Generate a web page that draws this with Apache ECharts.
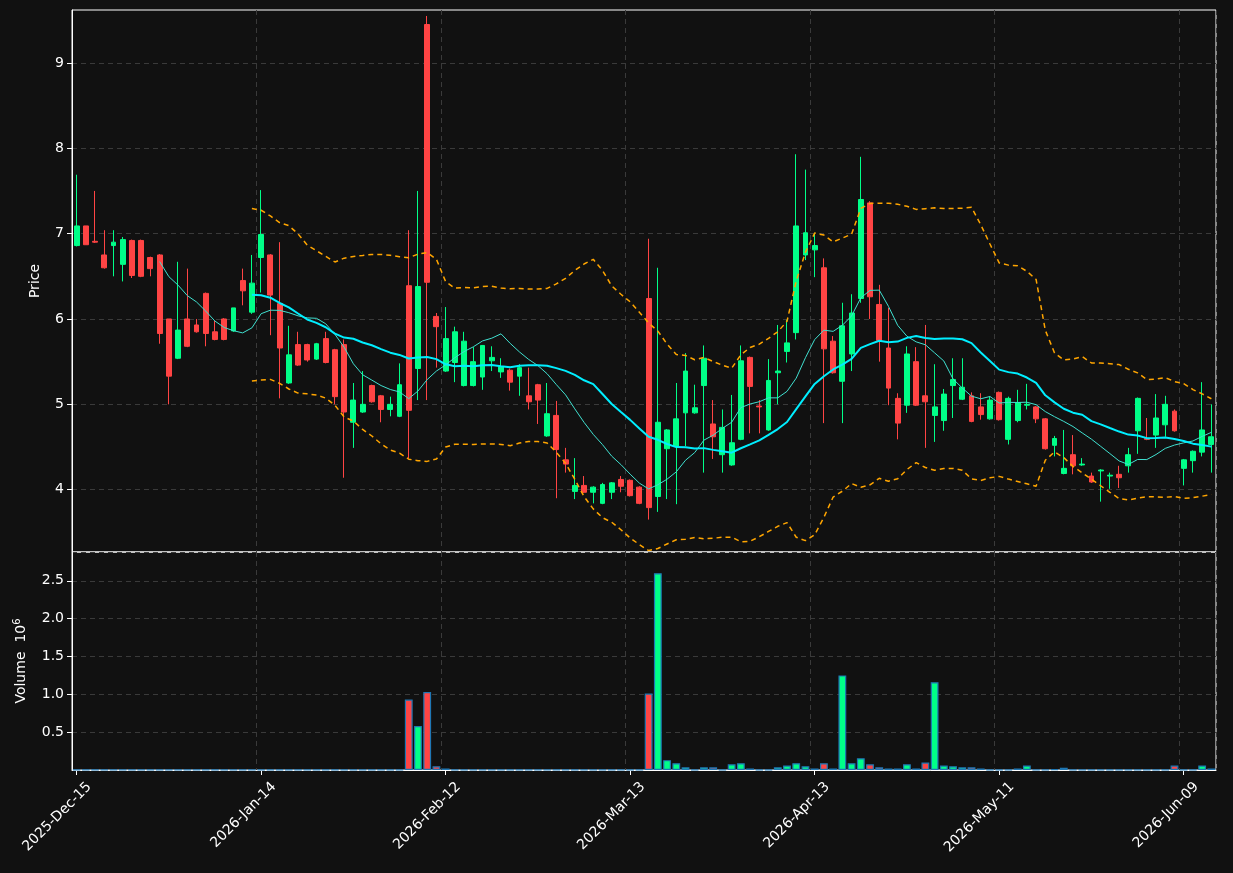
<!DOCTYPE html>
<html><head><meta charset="utf-8">
<script src="https://cdn.jsdelivr.net/npm/echarts@6/dist/echarts.min.js"></script>
<style>html,body{margin:0;padding:0;background:#111111;}#c{width:1233px;height:873px;}</style>
</head><body><div id="c"></div>
<script>
// Trading-day calendar
const startDate = '2025-12-15', endDate = '2026-06-12';
const holidays = ['2025-12-25','2026-01-01','2026-01-19','2026-02-16','2026-04-03','2026-05-25'];
const tickEvery = 20;
const priceTicks = [4,5,6,7,8,9];
// OHLC (open, close, low, high)
const opens  = [6.86,7.09,6.91,6.75,6.86,6.64,6.92,6.92,6.72,6.75,6.00,5.54,6.00,5.93,6.30,5.85,6.00,5.86,6.45,6.08,
6.72,6.75,6.18,5.25,5.70,5.70,5.53,5.77,5.64,5.70,4.79,4.91,5.22,5.10,4.94,4.86,6.39,5.42,9.45,6.03,
5.39,5.49,5.22,5.22,5.32,5.51,5.38,5.40,5.33,5.10,5.23,4.63,4.87,4.35,3.98,4.05,3.97,3.84,3.97,4.12,
4.11,4.03,6.24,3.92,4.48,4.51,4.90,4.90,5.22,4.77,4.41,4.29,4.59,5.55,4.98,4.70,5.37,5.62,5.84,6.75,
6.81,6.60,5.74,5.27,5.59,6.24,7.36,6.17,5.66,5.07,4.99,5.50,5.10,4.87,4.81,5.22,5.06,5.10,4.97,4.83,
5.14,4.59,4.81,4.99,4.97,4.83,4.52,4.19,4.41,4.29,4.16,4.22,4.16,4.18,4.28,4.69,4.60,4.64,4.76,4.92,
4.25,4.34,4.44,4.53];
const closes = [7.09,6.87,6.90,6.60,6.90,6.93,6.51,6.50,6.59,5.83,5.33,5.87,5.68,5.85,5.83,5.76,5.76,6.13,6.33,6.42,
6.99,6.28,5.66,5.58,5.46,5.52,5.71,5.49,5.09,4.91,5.05,5.00,5.03,4.94,5.00,5.23,4.93,6.38,6.43,5.91,
5.77,5.85,5.74,5.50,5.69,5.55,5.44,5.26,5.43,5.03,5.05,4.89,4.47,4.30,4.05,3.97,4.03,4.06,4.08,4.04,
3.93,3.84,3.79,4.79,4.70,4.83,5.39,4.96,5.54,4.62,4.73,4.55,5.51,5.21,4.97,5.28,5.39,5.72,7.09,7.01,
6.86,5.65,5.37,5.92,6.07,7.40,6.26,5.75,5.19,4.78,5.59,4.99,5.03,4.97,5.12,5.29,5.20,4.80,4.88,5.05,
4.82,5.07,5.02,5.00,4.83,4.48,4.60,4.25,4.28,4.30,4.09,4.23,4.17,4.14,4.41,5.07,4.59,4.84,5.00,4.69,
4.35,4.45,4.70,4.62];
const lows   = [6.85,6.87,6.89,6.59,6.50,6.44,6.48,6.49,6.50,5.71,5.00,5.53,5.67,5.84,5.68,5.75,5.75,5.85,6.16,6.06,
6.31,5.81,5.07,5.24,5.45,5.50,5.52,5.48,5.00,4.14,4.49,4.90,5.02,4.79,4.86,4.85,4.37,5.05,5.05,5.43,
5.38,5.26,5.21,5.21,5.17,5.39,5.31,5.16,5.10,4.94,4.77,4.62,3.90,4.20,3.89,3.96,3.84,3.83,3.89,3.97,
3.92,3.83,3.65,3.74,3.89,3.83,4.51,4.89,4.20,4.36,4.20,4.28,4.58,4.66,4.66,4.69,5.00,5.49,5.76,6.69,
6.49,4.78,5.36,4.78,5.39,6.19,6.00,5.50,4.99,4.59,4.90,4.98,4.49,4.56,4.69,4.84,5.05,4.79,4.82,4.82,
4.81,4.53,4.79,4.94,4.78,4.47,4.39,4.18,4.18,4.28,4.08,3.86,4.01,4.02,4.20,4.42,4.58,4.49,4.62,4.68,
4.05,4.20,4.39,4.20];
const highs  = [7.69,7.09,7.50,7.04,7.04,6.96,6.93,6.93,6.73,6.76,6.00,6.67,6.59,6.00,6.31,5.98,6.01,6.13,6.59,6.75,
7.51,6.76,6.90,5.92,5.85,5.71,5.72,5.85,5.65,5.76,5.25,5.39,5.23,5.11,5.09,5.48,7.04,7.50,9.55,6.07,
6.14,5.91,5.85,5.67,5.69,5.68,5.54,5.42,5.47,5.43,5.24,5.25,5.04,4.49,4.37,4.16,4.04,4.08,4.09,4.16,
4.12,4.04,6.94,6.60,4.71,5.25,5.60,5.23,5.69,5.05,4.94,5.11,5.69,5.56,5.05,5.53,5.93,5.99,7.93,7.75,
7.01,6.71,5.80,6.19,6.29,7.90,7.38,6.40,6.13,5.13,5.68,5.67,5.93,5.47,5.18,5.54,5.54,5.14,5.13,5.09,
5.15,5.09,5.17,5.24,4.98,4.84,4.63,4.70,4.64,4.37,4.20,4.24,4.20,4.28,4.49,5.08,4.84,5.12,5.10,4.94,
4.36,4.46,5.26,5.00];
// volume in millions
const volumes = [0.005,0.003,0.003,0.003,0.003,0.003,0.003,0.003,0.003,0.003,0.005,0.003,0.003,0.003,0.003,0.003,0.003,0.003,0.003,0.003,
0.005,0.005,0.005,0.003,0.003,0.003,0.003,0.003,0.003,0.005,0.005,0.003,0.003,0.003,0.003,0.005,0.93,0.58,1.03,0.05,
0.02,0.005,0.005,0.005,0.005,0.003,0.003,0.003,0.003,0.003,0.005,0.005,0.005,0.005,0.003,0.005,0.003,0.005,0.003,0.003,
0.003,0.003,1.01,2.60,0.13,0.09,0.035,0.005,0.035,0.035,0.005,0.075,0.09,0.02,0.005,0.005,0.035,0.06,0.09,0.05,
0.02,0.09,0.02,1.25,0.09,0.155,0.075,0.035,0.02,0.02,0.075,0.02,0.10,1.16,0.06,0.05,0.035,0.035,0.02,0.005,
0.005,0.005,0.02,0.06,0.005,0.005,0.01,0.03,0.005,0.003,0.003,0.005,0.005,0.003,0.003,0.005,0.003,0.005,0.003,0.06,
0.003,0.005,0.06,0.02];

const MON = ['Jan','Feb','Mar','Apr','May','Jun','Jul','Aug','Sep','Oct','Nov','Dec'];
const dates = [];
(function(){
  let d = new Date(startDate+'T00:00:00Z'); const e = new Date(endDate+'T00:00:00Z');
  while (d <= e) {
    const iso = d.toISOString().slice(0,10); const wd = d.getUTCDay();
    if (wd !== 0 && wd !== 6 && holidays.indexOf(iso) < 0)
      dates.push(d.getUTCFullYear()+'-'+MON[d.getUTCMonth()]+'-'+String(d.getUTCDate()).padStart(2,'0'));
    d = new Date(d.getTime()+86400000);
  }
})();

function ma(n){ return closes.map((c,i)=> i<n-1? '-' : +(closes.slice(i-n+1,i+1).reduce((a,b)=>a+b,0)/n).toFixed(4)); }
function bb(k){ return closes.map((c,i)=>{ if(i<19) return '-'; const w=closes.slice(i-19,i+1); const m=w.reduce((a,b)=>a+b,0)/20; const sd=Math.sqrt(w.reduce((a,b)=>a+(b-m)*(b-m),0)/20); return +(m+k*sd).toFixed(4);}); }
const ma10 = ma(10), ma20 = ma(20), bbU = bb(2), bbL = bb(-2);
const UP='#00ff88', DOWN='#ff4444';
const kdata = dates.map((d,i)=>[opens[i],closes[i],lows[i],highs[i]]);
const vdata = volumes.map((v,i)=>({value:v,itemStyle:{color: closes[i]>=opens[i]?UP:DOWN}}));

const gridLine = {show:true,lineStyle:{color:'#3a3a3a',type:[5,4],width:1}};
const showTick = (i)=> i % tickEvery === 0;
const chart = echarts.init(document.getElementById('c'));
chart.setOption({
  backgroundColor:'#111111', animation:false,
  grid:[{left:72,right:17,top:10,height:542,borderColor:'#fff',borderWidth:1,show:true},
        {left:72,right:17,top:552,height:218,borderColor:'#fff',borderWidth:1,show:true}],
  xAxis:[
    {type:'category',data:dates,gridIndex:0,boundaryGap:true,axisLine:{show:false},axisTick:{show:false},axisLabel:{show:false},
     splitLine:Object.assign({interval:(i)=>showTick(i)},gridLine)},
    {type:'category',data:dates,gridIndex:1,boundaryGap:true,axisLine:{show:true,lineStyle:{color:'#fff'}},
     axisTick:{show:true,alignWithLabel:true,interval:(i)=>showTick(i),length:5,lineStyle:{color:'#fff'}},
     axisLabel:{interval:(i)=>showTick(i),rotate:45,color:'#fff',fontSize:14,fontFamily:'DejaVu Sans',margin:2,verticalAlign:'top',padding:[11,0,0,0]},
     splitLine:Object.assign({interval:(i)=>showTick(i)},gridLine)}
  ],
  yAxis:[
    {type:'value',gridIndex:0,min:3.27,max:9.62,position:'left',name:'Price',nameLocation:'middle',nameGap:30,
     nameTextStyle:{color:'#fff',fontSize:14,fontFamily:'DejaVu Sans'},
     axisLine:{show:true,lineStyle:{color:'#fff'}},
     axisTick:{show:true,length:5,lineStyle:{color:'#fff'},customValues:priceTicks},
     axisLabel:{color:'#fff',fontSize:14,fontFamily:'DejaVu Sans',customValues:priceTicks},
     splitLine:gridLine},
    {type:'value',gridIndex:1,min:0,max:2.88,interval:0.5,name:'{a|Volume  10}{b|6}',nameLocation:'middle',nameGap:42,
     nameTextStyle:{color:'#fff',fontSize:14,fontFamily:'DejaVu Sans',rich:{a:{color:'#fff',fontSize:14,fontFamily:'DejaVu Sans'},b:{color:'#fff',fontSize:10,fontFamily:'DejaVu Sans',verticalAlign:'top',padding:[0,0,8,0]}}},
     axisLine:{show:true,lineStyle:{color:'#fff'}},axisTick:{show:true,length:5,lineStyle:{color:'#fff'}},
     axisLabel:{color:'#fff',fontSize:14,fontFamily:'DejaVu Sans',showMinLabel:false,showMaxLabel:false,formatter:(v)=>v.toFixed(1)},
     splitLine:gridLine}
  ],
  series:[
    {type:'candlestick',xAxisIndex:0,yAxisIndex:0,data:kdata,barWidth:'58%',
     itemStyle:{color:UP,color0:DOWN,borderColor:UP,borderColor0:DOWN,borderWidth:1}},
    {type:'line',xAxisIndex:0,yAxisIndex:0,data:ma10,showSymbol:false,lineStyle:{color:'#40e0d0',width:1},z:3},
    {type:'line',xAxisIndex:0,yAxisIndex:0,data:ma20,showSymbol:false,lineStyle:{color:'#00eeff',width:2},z:3},
    {type:'line',xAxisIndex:0,yAxisIndex:0,data:bbU,showSymbol:false,lineStyle:{color:'#ffa500',width:1.5,type:[5,4]},z:3},
    {type:'line',xAxisIndex:0,yAxisIndex:0,data:bbL,showSymbol:false,lineStyle:{color:'#ffa500',width:1.5,type:[5,4]},z:3},
    {type:'bar',xAxisIndex:1,yAxisIndex:1,data:vdata,barWidth:'85%',itemStyle:{borderColor:'#1f77b4',borderWidth:1.2}}
  ]
});
</script></body></html>
